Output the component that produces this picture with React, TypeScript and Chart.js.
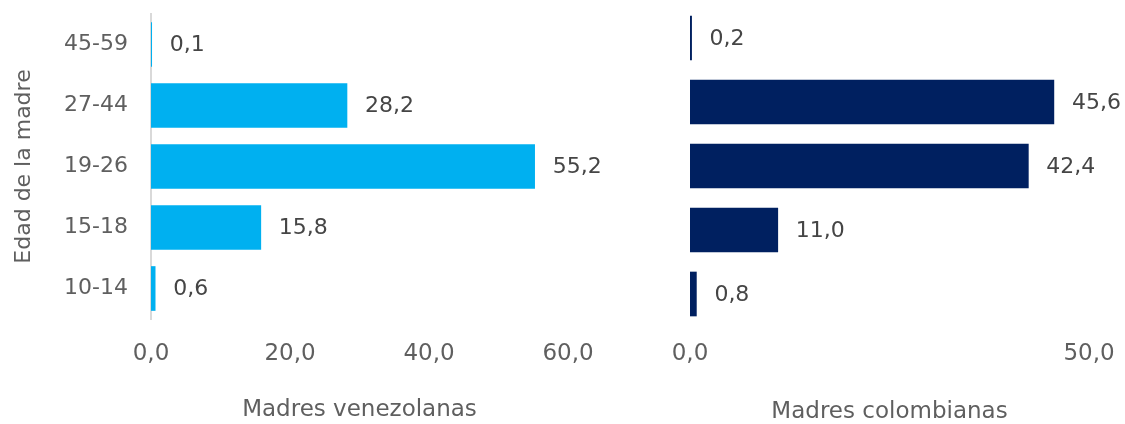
import React, { useEffect, useRef } from "react";
import { Chart, registerables } from "chart.js";

Chart.register(...registerables);

const categories = ["45-59", "27-44", "19-26", "15-18", "10-14"];
const venezolanas = [0.1, 28.2, 55.2, 15.8, 0.6];
const colombianas = [0.2, 45.6, 42.4, 11.0, 0.8];
const leftTicks = [0, 20, 40, 60];
const rightTicks = [0, 50];

const FONT = "'DejaVu Sans', 'Open Sans', sans-serif";
const TEXT = "#5f5f5f";

const fmt = (v: number) => v.toFixed(1).replace(".", ",");

const valueLabels = {
  id: "valueLabels",
  afterDatasetsDraw(chart: any) {
    const ctx = chart.ctx;
    ctx.save();
    ctx.font = `22px ${FONT}`;
    ctx.fillStyle = "#454545";
    ctx.textAlign = "left";
    ctx.textBaseline = "middle";
    const meta = chart.getDatasetMeta(0);
    const data = chart.data.datasets[0].data as number[];
    meta.data.forEach((el: any, i: number) => {
      ctx.fillText(fmt(data[i]), el.x + 18, el.y + 1);
    });
    ctx.restore();
  },
};

function makeChart(
  canvas: HTMLCanvasElement,
  values: number[],
  color: string,
  ticks: number[],
  opts: {
    yWidth: number;
    xHeight: number;
    padTop: number;
    padRight: number;
    showY: boolean;
    xTitle: string;
    tickPad: number;
    titlePad: number;
  }
) {
  return new Chart(canvas, {
    type: "bar",
    data: {
      labels: categories,
      datasets: [
        {
          data: values,
          backgroundColor: color,
          borderWidth: 0,
          barThickness: 44,
        },
      ],
    },
    options: {
      indexAxis: "y",
      animation: false,
      responsive: false,
      devicePixelRatio: 1,
      layout: { padding: { top: opts.padTop, right: opts.padRight, left: 0, bottom: 0 } },
      plugins: { legend: { display: false }, tooltip: { enabled: false } },
      scales: {
        x: {
          min: ticks[0],
          max: ticks[ticks.length - 1],
          afterBuildTicks: (scale: any) => {
            scale.ticks = ticks.map((v) => ({ value: v }));
          },
          afterFit: (scale: any) => {
            scale.height = opts.xHeight;
            scale.paddingLeft = 0;
            scale.paddingRight = 0;
          },
          grid: { display: false, drawTicks: false },
          border: { display: false },
          ticks: {
            color: TEXT,
            font: { family: FONT, size: 23 },
            padding: opts.tickPad,
            maxRotation: 0,
            callback: (v: any) => fmt(Number(v)),
          },
          title: {
            display: true,
            text: opts.xTitle,
            color: TEXT,
            font: { family: FONT, size: 23 },
            padding: { top: 0, bottom: opts.titlePad },
          },
        },
        y: {
          afterFit: (scale: any) => {
            scale.width = opts.yWidth;
            scale.paddingTop = 0;
            scale.paddingBottom = 0;
          },
          grid: { display: false, drawTicks: false },
          border: { display: opts.showY, color: "#d9d9d9", width: 2 },
          ticks: {
            display: opts.showY,
            color: TEXT,
            font: { family: FONT, size: 22 },
            padding: 23,
          },
          title: {
            display: opts.showY,
            text: "Edad de la madre",
            color: TEXT,
            font: { family: FONT, size: 22 },
            padding: { top: 11, bottom: 0 },
          },
        },
      },
    },
    plugins: [valueLabels],
  });
}

export default function App() {
  const leftRef = useRef<HTMLCanvasElement>(null);
  const rightRef = useRef<HTMLCanvasElement>(null);

  useEffect(() => {
    const a = makeChart(leftRef.current!, venezolanas, "#00B0F0", leftTicks, {
      yWidth: 151,
      xHeight: 105,
      padTop: 14,
      padRight: 52,
      showY: true,
      xTitle: "Madres venezolanas",
      tickPad: 21,
      titlePad: 0,
    });
    const b = makeChart(rightRef.current!, colombianas, "#002060", rightTicks, {
      yWidth: 50,
      xHeight: 98,
      padTop: 6,
      padRight: 36,
      showY: false,
      xTitle: "Madres colombianas",
      tickPad: 14,
      titlePad: -2,
    });
    return () => {
      a.destroy();
      b.destroy();
    };
  }, []);

  return (
    <div style={{ position: "absolute", left: 0, top: 0, width: 1125, height: 424, background: "#fff" }}>
      <canvas
        ref={leftRef}
        width={620}
        height={424}
        style={{ position: "absolute", left: 0, top: 0, width: 620, height: 424 }}
      />
      <canvas
        ref={rightRef}
        width={485}
        height={424}
        style={{ position: "absolute", left: 640, top: 0, width: 485, height: 424 }}
      />
    </div>
  );
}
